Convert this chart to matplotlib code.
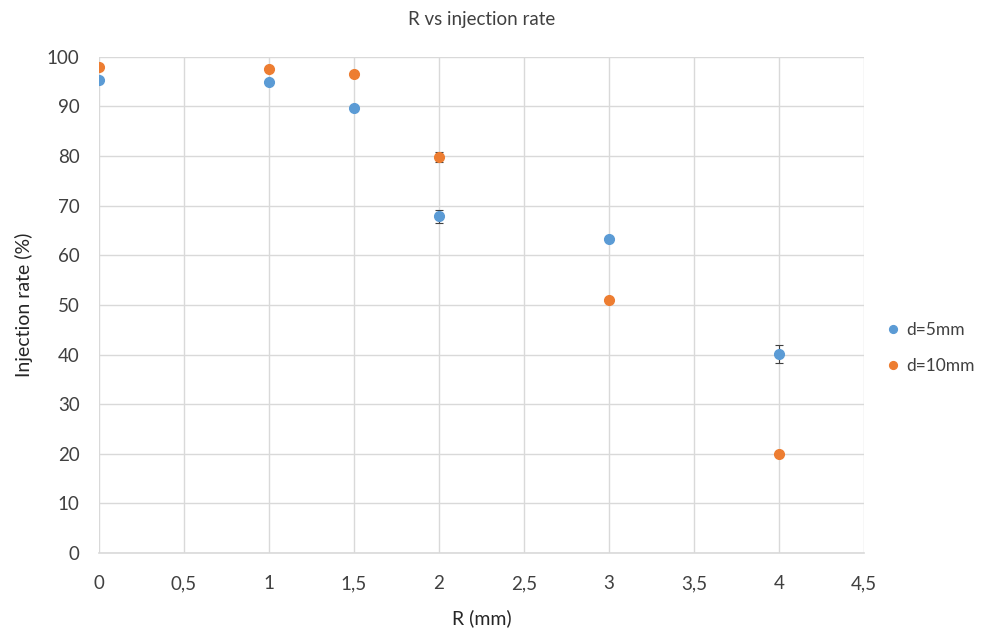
import matplotlib.pyplot as plt
from matplotlib.ticker import MultipleLocator, FuncFormatter

# R values (mm) and measured injection rates (%)
r_mm = [0, 1, 1.5, 2, 3, 4]
rate_d5 = [95.4, 95.0, 89.7, 67.9, 63.3, 40.1]
err_d5 = [0.3, 0.3, 0.3, 1.3, 0.3, 1.9]
rate_d10 = [98.0, 97.6, 96.6, 79.9, 51.0, 19.9]
err_d10 = [0.3, 0.3, 0.3, 1.0, 0.3, 0.3]

plt.rcParams['font.family'] = ['Lato', 'DejaVu Sans']

fig = plt.figure(figsize=(9.84, 6.32), dpi=100)
ax = fig.add_axes([0.1006, 0.125, 0.7774, 0.785])

grid_color = '#d9d9d9'
ax.errorbar(r_mm, rate_d5, yerr=err_d5, fmt='o', color='#5b9bd5', ms=7,
            ecolor='#404040', elinewidth=0.8, capsize=3, capthick=0.8,
            label='d=5mm', zorder=3)
ax.errorbar(r_mm, rate_d10, yerr=err_d10, fmt='o', color='#ed7d31', ms=7,
            ecolor='#404040', elinewidth=0.8, capsize=3, capthick=0.8,
            label='d=10mm', zorder=3)

ax.set_xlim(0, 4.5)
ax.set_ylim(0, 100)
ax.xaxis.set_major_locator(MultipleLocator(0.5))
ax.yaxis.set_major_locator(MultipleLocator(10))
ax.xaxis.set_major_formatter(FuncFormatter(lambda v, p: f'{v:g}'.replace('.', ',')))
ax.grid(True, color=grid_color, linewidth=1)
ax.set_axisbelow(True)
for side in ['top', 'right', 'left']:
    ax.spines[side].set_visible(False)
ax.spines['bottom'].set_color(grid_color)
ax.spines['bottom'].set_linewidth(1.2)
ax.tick_params(axis='x', length=0, labelsize=13.5, colors='#404040', pad=16)
ax.tick_params(axis='y', length=0, labelsize=13.5, colors='#404040', pad=14)

ax.set_title('R vs injection rate', fontsize=13.5, color='#404040', pad=23)
ax.set_xlabel('R (mm)', fontsize=14, color='#262626', labelpad=12)
ax.set_ylabel('Injection rate (%)', fontsize=14, color='#262626', labelpad=10)

handles, labels = ax.get_legend_handles_labels()
handles = [h[0] for h in handles]
fig.legend(handles, labels, loc='center left', bbox_to_anchor=(0.9, 0.45),
           frameon=False, fontsize=12.5, handlelength=0.8, handletextpad=0.4,
           borderaxespad=0, borderpad=0, markerscale=0.8,
           labelspacing=1.15, labelcolor='#404040')

fig.savefig('out.png', dpi=100)
